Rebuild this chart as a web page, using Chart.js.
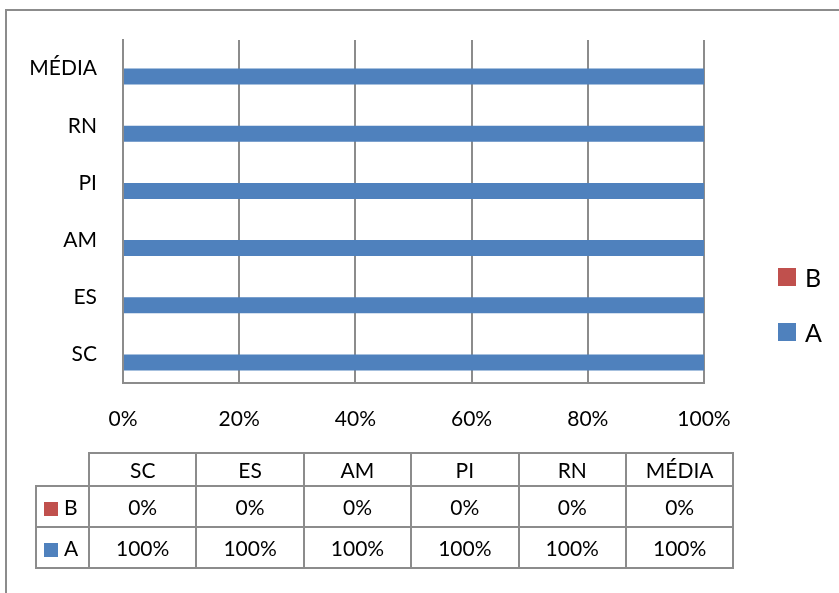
<!DOCTYPE html>
<html>
<head>
<meta charset="utf-8">
<title>A / B por estado</title>
<script src="https://cdn.jsdelivr.net/npm/chart.js@4/dist/chart.umd.min.js"></script>
<style>
  html, body { margin: 0; padding: 0; background: #fff; }
  body { width: 839px; height: 593px; position: relative; overflow: hidden;
         font-family: Lato, "Open Sans", sans-serif; color: #000; }
  #frame { position: absolute; left: 5px; top: 9px; width: 900px; height: 700px;
           border: 2px solid #8c8c8c; box-sizing: border-box; }
  #chartBox { position: absolute; left: 0; top: 0; width: 839px; height: 593px; }
  #legend { position: absolute; left: 778px; top: 262px; font-size: 25px; }
  .leg-row { display: flex; align-items: center; height: 30px; margin-bottom: 25px; }
  .leg-sw { width: 18px; height: 18px; margin-right: 9px; }
  #dataTable { position: absolute; left: 35px; top: 452px; border-collapse: collapse;
               font-size: 21px; table-layout: fixed; }
  #dataTable td { border: 2px solid #8c8c8c; text-align: center; padding: 0; }
  #dataTable td.blank { border-top: none; border-left: none; }
  #dataTable td.key { text-align: left; padding-left: 7px; white-space: nowrap; }
  .tbl-sw { display: inline-block; width: 14px; height: 14px; margin-right: 6px; vertical-align: -1px; }
</style>
</head>
<body>
<div id="frame"></div>
<div id="chartBox"><canvas id="barChart" width="839" height="593"></canvas></div>
<div id="legend"></div>
<table id="dataTable"></table>

<script>
/* ── Data ─────────────────────────────────────── */
const categories = ['SC', 'ES', 'AM', 'PI', 'RN', 'MÉDIA'];
const seriesA    = [100, 100, 100, 100, 100, 100];
const seriesB    = [0, 0, 0, 0, 0, 0];
const xTicks     = [0, 20, 40, 60, 80, 100];

/* ── Colours ──────────────────────────────────── */
const C_A    = '#4f81bd';
const C_B    = '#c0504d';
const C_GRID = '#8c8c8c';

const FONT = { family: 'Lato, "Open Sans", sans-serif', size: 21 };

/* ── Chart ────────────────────────────────────── */
new Chart(document.getElementById('barChart').getContext('2d'), {
  type: 'bar',
  data: {
    labels: categories,
    datasets: [
      { label: 'B', data: seriesB, backgroundColor: C_B, borderWidth: 0,
        categoryPercentage: 0.56, barPercentage: 1 },
      { label: 'A', data: seriesA, backgroundColor: C_A, borderWidth: 0,
        categoryPercentage: 0.56, barPercentage: 1 },
    ],
  },
  options: {
    indexAxis: 'y',
    responsive: false,
    animation: false,
    layout: { padding: { left: 0, top: 40, right: 135, bottom: 150 } },
    plugins: { legend: { display: false }, tooltip: { enabled: false } },
    scales: {
      x: {
        min: xTicks[0], max: xTicks[xTicks.length - 1],
        afterBuildTicks: axis => { axis.ticks = xTicks.map(v => ({ value: v })); },
        ticks: { color: '#000', font: FONT, padding: 24, callback: v => v + '%' },
        grid:  { color: C_GRID, lineWidth: 2, drawTicks: false },
        border: { color: C_GRID, width: 2 },
        afterFit: axis => { axis.height = 60; },
      },
      y: {
        reverse: true,
        ticks: { color: '#000', font: FONT, padding: 26 },
        grid:  { display: false, drawTicks: false },
        border: { color: C_GRID, width: 2 },
        afterFit: axis => { axis.width = 123; },
      },
    },
  },
});

/* ── Legend (right) ───────────────────────────── */
document.getElementById('legend').innerHTML = [['B', C_B], ['A', C_A]].map(([name, c]) =>
  `<div class="leg-row"><span class="leg-sw" style="background:${c}"></span>${name}</div>`
).join('');

/* ── Data table ───────────────────────────────── */
const colW = 107.4;
let html = '<colgroup><col style="width:53px">' +
  categories.map(() => `<col style="width:${colW}px">`).join('') + '</colgroup>';
html += '<tr style="height:33px"><td class="blank"></td>' +
  categories.map(c => `<td>${c}</td>`).join('') + '</tr>';
[['B', C_B, seriesB], ['A', C_A, seriesA]].forEach(([name, c, vals]) => {
  html += `<tr style="height:41px"><td class="key"><span class="tbl-sw" style="background:${c}"></span>${name}</td>` +
    vals.map(v => `<td>${v}%</td>`).join('') + '</tr>';
});
document.getElementById('dataTable').innerHTML = html;
</script>
</body>
</html>
